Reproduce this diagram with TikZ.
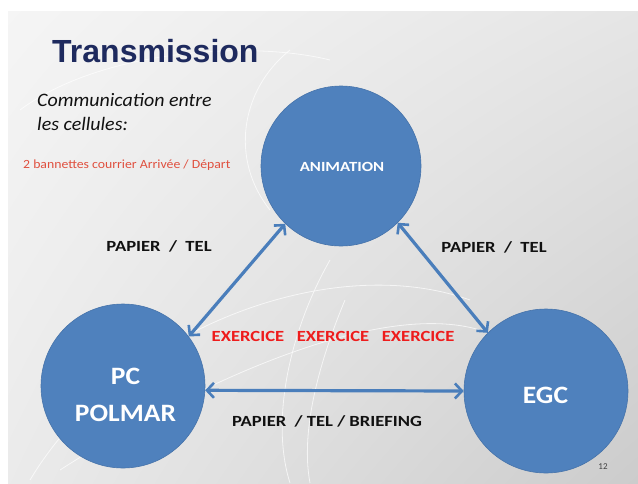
\documentclass[tikz,border=0pt]{standalone}
\usepackage{fontspec}
\setmainfont{Carlito}
\newfontfamily\titlefont{Liberation Sans}
\newfontfamily\wideA[FakeStretch=1.2]{Carlito}
\newfontfamily\wideB[FakeStretch=1.1]{Carlito}
\newfontfamily\wideC[FakeStretch=1.05]{Carlito}
\usetikzlibrary{arrows.meta,shadings}
\definecolor{cblue}{HTML}{4F81BD}
\definecolor{cedge}{HTML}{4673AA}
\definecolor{carrow}{HTML}{4A7EBB}
\definecolor{cred}{HTML}{EE1C1C}
\definecolor{csmallred}{HTML}{E0503F}
\definecolor{ctitle}{HTML}{1E2A5E}
\definecolor{ctext}{HTML}{111111}
\begin{document}
\begin{tikzpicture}[x=1pt,y=-1pt,
  cell/.style={circle,fill=cblue,draw=cedge,line width=0.6pt,inner sep=0pt},
  celltext/.style={text=white,align=center,inner sep=0pt,anchor=base},
  link/.style={line width=3.2pt,draw=carrow,{Straight Barb[length=7pt,width=15pt,line width=2.6pt]}-{Straight Barb[length=7pt,width=15pt,line width=2.6pt]}},
  lbl/.style={font=\wideA\bfseries\fontsize{15.5}{18}\selectfont,text=ctext,inner sep=0pt,anchor=base},
  deco/.style={draw=white,opacity=0.7,line width=0.8pt}]
\useasboundingbox (0,0) rectangle (638,483);
\fill[white] (0,0) rectangle (638,483);
\shade[upper left=white!96!black,upper right=white!90!black,lower left=white!92!black,lower right=white!80!black] (8,11) rectangle (638,483);
% faint decorative swooshes
\draw[deco] (30,480) .. controls (120,330) and (330,250) .. (470,300);
\draw[deco] (60,470) .. controls (200,380) and (380,300) .. (480,330);
\draw[deco] (290,483) .. controls (270,420) and (290,330) .. (330,260);
\draw[deco] (310,483) .. controls (300,430) and (320,360) .. (345,300);
\draw[deco] (20,110) .. controls (100,50) and (250,40) .. (330,60);
\draw[deco] (270,210) .. controls (230,160) and (240,90) .. (290,50);
% title and texts
\node[anchor=base west,inner sep=0pt,font=\titlefont\bfseries\fontsize{32}{34}\selectfont,text=ctitle] (title) at (52,62) {Transmission};
\node[anchor=base west,inner sep=0pt,align=left,font=\wideC\itshape\fontsize{19}{24}\selectfont,text=ctext] (comm) at (37,130) {Communication entre\\les cellules:};
\node[anchor=base west,inner sep=0pt,font=\wideB\fontsize{12.5}{14}\selectfont,text=csmallred] (bann) at (23,168) {2 bannettes courrier Arrivée / Départ};
% cells
\node[cell,minimum size=160pt] (anim) at (341,166) {};
\node[cell,minimum size=164pt] (pc) at (123,386) {};
\node[cell,minimum size=164pt] (egc) at (546,391) {};
\node[celltext,font=\wideA\bfseries\fontsize{14}{16}\selectfont] (animt) at (342,171) {ANIMATION};
\node[celltext,font=\wideB\bfseries\fontsize{25}{37}\selectfont] (pct) at (125.5,421) {PC\\POLMAR};
\node[celltext,font=\wideB\bfseries\fontsize{25}{37}\selectfont] (egct) at (545.5,403) {EGC};
% links
\draw[link] (pc.37) -- (anim.226);
\draw[link] (anim.-45) -- (egc.135);
\draw[link] (pc.-3) -- (egc.180);
% labels
\node[lbl] (l1) at (159,251) {PAPIER\ \ /\ \ TEL};
\node[lbl] (l2) at (494,252) {PAPIER\ \ /\ \ TEL};
\node[lbl] (l3) at (327,426) {PAPIER\ \ /\ TEL\ /\ BRIEFING};
\node[lbl,text=cred] (ex) at (333,341) {EXERCICE\ \ \ EXERCICE\ \ \ EXERCICE};
\node[inner sep=0pt,font=\fontsize{9}{10}\selectfont,text=black!75] (pg) at (603,467) {12};
\end{tikzpicture}
\end{document}
